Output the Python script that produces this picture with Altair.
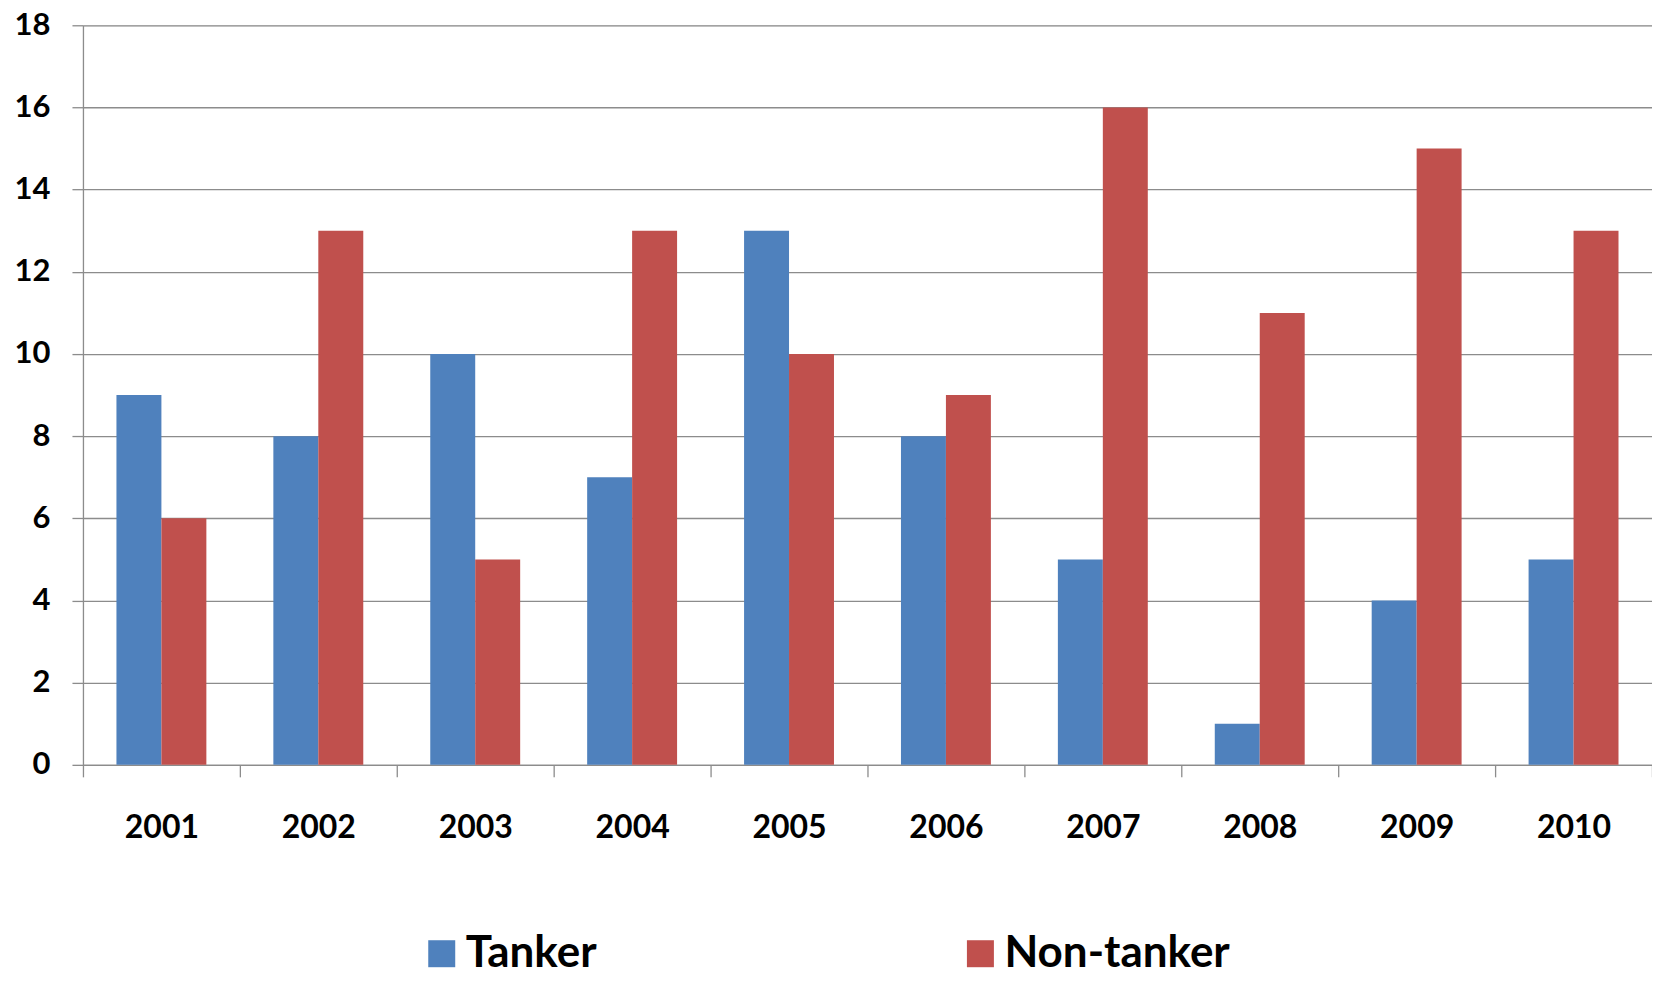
import altair as alt
import pandas as pd

years = ["2001", "2002", "2003", "2004", "2005", "2006", "2007", "2008", "2009", "2010"]
tanker = [9, 8, 10, 7, 13, 8, 5, 1, 4, 5]
non_tanker = [6, 13, 5, 13, 10, 9, 16, 11, 15, 13]
series = ["Tanker", "Non-tanker"]
colors = ["#4F81BD", "#C0504D"]

rows = []
for y, t, n in zip(years, tanker, non_tanker):
    rows.append({"year": y, "series": series[0], "value": t})
    rows.append({"year": y, "series": series[1], "value": n})
df = pd.DataFrame(rows)

FONT = "Lato"

chart = alt.Chart(df).mark_bar().encode(
    x=alt.X("year:N", sort=years, title=None,
            scale=alt.Scale(paddingInner=0, paddingOuter=0),
            axis=alt.Axis(labelAngle=0, labelFont=FONT, labelFontSize=32, labelFontWeight="bold",
                          labelColor="#000000", labelPadding=36, tickBand="extent",
                          tickSize=12, tickColor="#8c8c8c", tickWidth=1.3,
                          domainColor="#8c8c8c", domainWidth=1.3, grid=False)),
    xOffset=alt.XOffset("series:N", sort=series,
                        scale=alt.Scale(paddingInner=0, paddingOuter=0.745)),
    y=alt.Y("value:Q", title=None,
            scale=alt.Scale(domain=[0, 18], nice=False),
            axis=alt.Axis(values=list(range(0, 19, 2)), labelFont=FONT, labelFontSize=31,
                          labelFontWeight="bold", labelColor="#000000", labelPadding=22,
                          tickSize=11, tickColor="#8c8c8c", tickWidth=1.3,
                          domainColor="#8c8c8c", domainWidth=1.3,
                          grid=True, gridColor="#8c8c8c", gridWidth=1.3)),
    color=alt.Color("series:N", sort=series, title=None,
                    scale=alt.Scale(domain=series, range=colors),
                    legend=alt.Legend(orient="none", legendX=337, legendY=907,
                                      direction="horizontal", columns=2, padding=0,
                                      symbolType="square", symbolSize=729,
                                      symbolStrokeWidth=0, symbolOpacity=1,
                                      labelFont=FONT, labelFontSize=44,
                                      labelFontWeight="bold", labelColor="#000000",
                                      labelOffset=2, columnPadding=362,
                                      labelLimit=400)),
).properties(
    width=1570, height=740,
    autosize=alt.AutoSizeParams(type="none"),
    padding={"left": 75, "top": 17, "right": 0, "bottom": 213},
).configure_view(stroke=None).configure(background="#ffffff")

chart.save("out.html", embed_options={"renderer": "svg", "actions": False})
